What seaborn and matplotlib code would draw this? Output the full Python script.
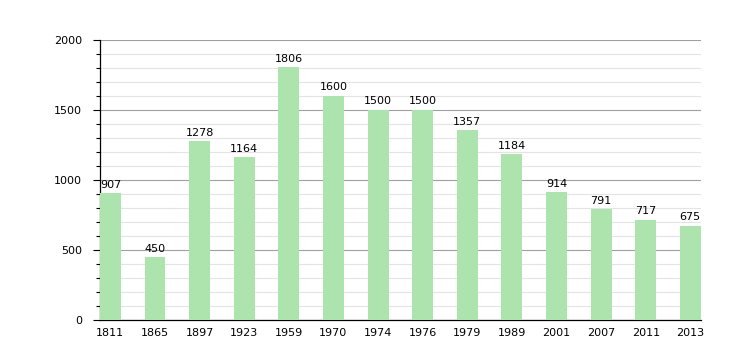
import matplotlib
matplotlib.use("Agg")
import matplotlib.pyplot as plt
import pandas as pd
import seaborn as sns
from matplotlib.ticker import MultipleLocator

years = ["1811", "1865", "1897", "1923", "1959", "1970", "1974",
         "1976", "1979", "1989", "2001", "2007", "2011", "2013"]
population = [907, 450, 1278, 1164, 1806, 1600, 1500,
              1500, 1357, 1184, 914, 791, 717, 675]

df = pd.DataFrame({"year": years, "pop": population})

sns.set_style("white")
plt.rcParams["font.family"] = ["DejaVu Sans"]

fig = plt.figure(figsize=(7.4, 3.6), dpi=100)
ax = fig.add_axes([0.135, 0.111, 0.812, 0.778])

sns.barplot(data=df, x="year", y="pop", color="#ade3ad", saturation=1,
            width=0.47, linewidth=0, ax=ax, zorder=3)

for i, v in enumerate(population):
    ax.text(i, v + 25, str(v), ha="center", va="bottom", fontsize=8, color="black")

ax.set_ylim(0, 2000)
ax.set_xlim(-0.235, 13.235)
ax.yaxis.set_major_locator(MultipleLocator(500))
ax.yaxis.set_minor_locator(MultipleLocator(100))
ax.grid(axis="y", which="major", color="#a0a0a0", linewidth=0.8, zorder=0)
ax.grid(axis="y", which="minor", color="#e4e4e4", linewidth=0.8, zorder=0)
ax.set_axisbelow(True)

for s in ["top", "right"]:
    ax.spines[s].set_visible(False)
for s in ["left", "bottom"]:
    ax.spines[s].set_color("black")
    ax.spines[s].set_linewidth(0.9)

ax.tick_params(axis="y", which="major", left=True, length=5, width=0.8,
               labelsize=8, pad=8, labelcolor="black", color="black")
ax.tick_params(axis="y", which="minor", left=True, length=3, width=0.8, color="black")
ax.tick_params(axis="x", bottom=False, labelsize=8, pad=2, labelcolor="black")
ax.set_xlabel("")
ax.set_ylabel("")

fig.savefig("out.png", dpi=100)
